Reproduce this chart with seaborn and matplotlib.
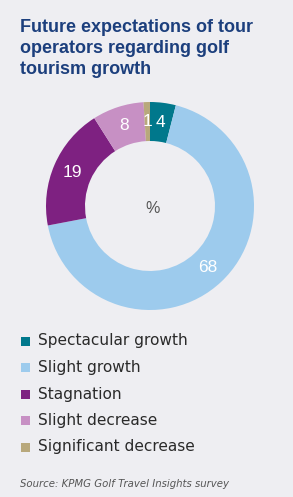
import matplotlib
matplotlib.use("Agg")
import matplotlib.pyplot as plt
import seaborn as sns
import numpy as np
from matplotlib.patches import Rectangle

# ---- data ----
title = "Future expectations of tour\noperators regarding golf\ntourism growth"
categories = ["Spectacular growth", "Slight growth", "Stagnation", "Slight decrease", "Significant decrease"]
values = [4, 68, 19, 8, 1]
colors = ["#00788C", "#9DCBED", "#7E2181", "#C790C4", "#B8A87C"]
center_label = "%"
source = "Source: KPMG Golf Travel Insights survey"

BG = "#EEEEF2"
sns.set_theme(style="white")
plt.rcParams["font.family"] = ["Liberation Sans", "DejaVu Sans"]

W, H = 293, 497
fig = plt.figure(figsize=(W / 100, H / 100), dpi=100, facecolor=BG)

# title
fig.text(20 / W, 1 - 19 / H, title, ha="left", va="top", fontsize=13,
         fontweight="bold", color="#1C3F7D", linespacing=1.3)

# donut
cx, cy, r = 150, 206, 104
ax = fig.add_axes([(cx - r) / W, (H - cy - r) / H, 2 * r / W, 2 * r / H])
ax.set_facecolor(BG)
wedges, _ = ax.pie(values, colors=colors, startangle=90, counterclock=False,
                   radius=1.0, wedgeprops=dict(width=0.375, linewidth=0))
for w, v in zip(wedges, values):
    ang = np.deg2rad((w.theta1 + w.theta2) / 2)
    rr = 0.81
    ax.text(rr * np.cos(ang), rr * np.sin(ang), str(v), ha="center", va="center",
            color="white", fontsize=12.5)
ax.text(0.02, -0.02, center_label, ha="center", va="center", fontsize=11.5,
        color="#555555")
ax.set_xlim(-1, 1)
ax.set_ylim(-1, 1)
ax.set_aspect("equal")
ax.axis("off")

# legend
y0, dy = 341, 26.5
for i, (lab, col) in enumerate(zip(categories, colors)):
    yc = y0 + i * dy
    fig.patches.append(Rectangle((21 / W, 1 - (yc + 4.5) / H), 9 / W, 9 / H,
                                 transform=fig.transFigure, facecolor=col,
                                 edgecolor="none"))
    fig.text(38 / W, 1 - yc / H, lab, ha="left", va="center", fontsize=11.1,
             color="#2a2a2a", family="DejaVu Sans")

fig.text(20 / W, 1 - 484 / H, source, ha="left", va="center", fontsize=7.3,
         style="italic", color="#555555", family="DejaVu Sans")

fig.savefig("out.png", dpi=100, facecolor=BG)
